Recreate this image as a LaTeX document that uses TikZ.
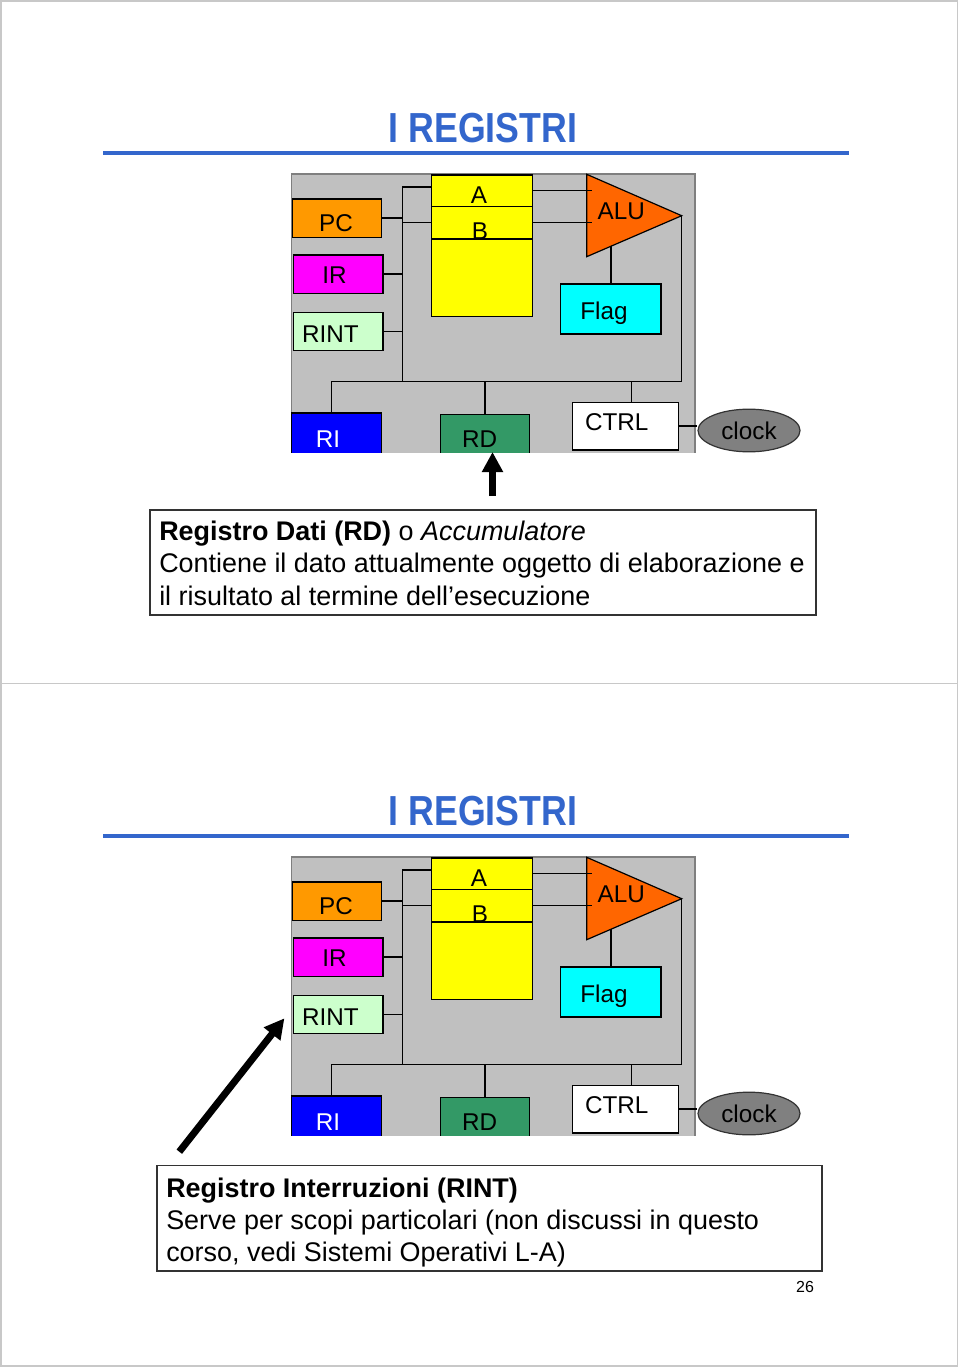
\documentclass[tikz,border=0pt]{standalone}
\usepackage{fontspec}
\setmainfont{Liberation Sans}
\usetikzlibrary{arrows.meta,calc,shapes.geometric}
\definecolor{ttl}{HTML}{3366CC}
\definecolor{framegray}{HTML}{C8C8C8}
\definecolor{cpugray}{HTML}{C0C0C0}
\definecolor{cpuedge}{HTML}{7F7F7F}
\definecolor{cPC}{HTML}{FF9900}
\definecolor{cIR}{HTML}{FF00FF}
\definecolor{cRINT}{HTML}{CCFFCC}
\definecolor{cY}{HTML}{FFFF00}
\definecolor{cALU}{HTML}{FF6600}
\definecolor{cFlag}{HTML}{00FFFF}
\definecolor{cRI}{HTML}{0000FF}
\definecolor{cRD}{HTML}{339966}
\definecolor{cClock}{HTML}{808080}
\tikzset{
  rb/.style={draw=black, line width=0.9pt, inner sep=0pt},
  wire/.style={draw=black, line width=1.1pt},
  lab/.style={inner sep=0pt, font=\fontsize{18.2}{20}\selectfont},
  infotxt/.style={inner sep=0pt, anchor=base west, font=\fontsize{20.2}{24}\selectfont},
  bigarrow/.style={line width=5.25pt, -{Triangle[length=15pt,width=15pt]}},
  infobox/.style={draw=black!80, line width=1pt},
}
\newcommand\regbox[7][]{\node[rb, fill=#7, minimum width={(#5-#3)*0.75pt}, minimum height={(#6-#4)*0.75pt}, #1] (#2) at ({(#3+#5)/2},{(#4+#6)/2}) {};}
\newcommand\cpudiagram{%
  \node[font=\bfseries\fontsize{31.5}{31.5}\selectfont, text=ttl, inner sep=0pt, anchor=base] (title) at (483,142) {\scalebox{0.85}[1]{I REGISTRI}};
  \coordinate (ruleL) at (103,153);
  \coordinate (ruleR) at (849,153);
  \draw[ttl, line width=2.3pt] (ruleL) -- (ruleR);
  \begin{scope}
    \clip (280,165) rectangle (697,452);
    \regbox[draw=cpuedge]{bg}{291.5}{174}{695}{470}{cpugray}
    \coordinate (busTop) at (402.3,187);
    \coordinate (busBot) at (402.3,381.7);
    \coordinate (hbL) at (331.7,381.7);
    \coordinate (hbR) at (681.7,381.7);
    \coordinate (aluA) at (586.7,174.3);
    \coordinate (aluB) at (586.7,256.7);
    \coordinate (aluT) at (681.7,215.7);
    \coordinate (aluIn) at (592,200);
    \coordinate (ctrlTap) at (631.7,381.7);
    \coordinate (aluEdge) at ($(aluB)!0.25!(aluT)$);
    \filldraw[fill=cALU, draw=black, line width=0.9pt] (aluA) -- (aluT) -- (aluB) -- cycle;
    \regbox{PC}{292.3}{199}{381.7}{237.3}{cPC}
    \regbox{IR}{293.3}{255}{383}{293.3}{cIR}
    \regbox{RINT}{293.3}{312.3}{383}{350.7}{cRINT}
    \regbox{A}{431.7}{175}{532.3}{206.3}{cY}
    \regbox{B}{431.7}{206.3}{532.3}{239}{cY}
    \regbox{RF}{431.7}{239}{532.3}{316.7}{cY}
    \regbox{Flag}{560.7}{284}{661}{334}{cFlag}
    \regbox{RI}{291.7}{413}{381.7}{470}{cRI}
    \regbox{RD}{440.3}{414.3}{529.3}{470}{cRD}
    \regbox{CTRL}{572.3}{402.3}{678.7}{450}{white}
    \draw[wire] (busTop) -- (busBot);
    \draw[wire] (busTop) -- (busTop -| A.west);
    \draw[wire] (B.west) -- (B.west -| busTop);
    \draw[wire] (PC.east) -- (PC.east -| busTop);
    \draw[wire] (IR.east) -- (IR.east -| busTop);
    \draw[wire] (RINT.east) -- (RINT.east -| busTop);
    \draw[wire] (A.east) -- (A.east -| aluIn);
    \draw[wire] (B.east) -- (B.east -| aluIn);
    \draw[wire] (aluT) -- (hbR) -- (hbL) -- (hbL |- RI.north);
    \draw[wire] (RD.north) -- (RD.north |- hbL);
    \draw[wire] (ctrlTap) -- (ctrlTap |- CTRL.north);
    \draw[wire] (Flag.north) -- (Flag.north |- aluEdge);
    \node[lab] (Al) at (479,195.5) {A};
    \node[lab] (Bl) at (480,231) {B};
    \node[lab] (PCl) at (336,223) {PC};
    \node[lab] (IRl) at (334.5,275.3) {IR};
    \node[lab] (RINTl) at (330.5,334) {RINT};
    \node[lab, text=white] (RIl) at (328,439) {RI};
    \node[lab] (RDl) at (479.7,439) {RD};
    \node[lab] (CTRLl) at (616.7,422.5) {CTRL};
    \node[lab] (Flagl) at (604,313) {Flag};
    \node[lab] (ALUl) at (621.3,211) {ALU};
  \end{scope}
  \node[lab, ellipse, draw=black!80, line width=0.9pt, fill=cClock, minimum width=76.5pt, minimum height=32pt] (clock) at (749,430.5) {clock};
  \draw[wire] (CTRL.east) -- (CTRL.east -| clock.west);
  \coordinate (diagBot) at (0,452);
}
\begin{document}
\begin{tikzpicture}[x=0.75pt,y=-0.75pt]
  \useasboundingbox (0,0) rectangle (960,1367);
  \fill[white] (0,0) rectangle (960,1367);
  \coordinate (pgTL) at (1,1);
  \coordinate (pgBR) at (957.5,1366);
  \draw[framegray, line width=1.2pt] (pgTL) rectangle (pgBR);
  \coordinate (divL) at (1,683.3);
  \draw[framegray, line width=1.2pt] (divL) -- (divL -| pgBR);
  % slide 1
  \begin{scope}[name prefix=s1-]
    \cpudiagram
    \coordinate (arrTail) at (492.5,496);
    \draw[bigarrow] (arrTail) -- (arrTail |- diagBot);
    \regbox[infobox]{info}{150}{510}{816}{615}{white}
    \node[infotxt] (l1) at (159,540) {\textbf{Registro Dati (RD)} o \textit{Accumulatore}};
    \node[infotxt] (l2) at (159,572.5) {Contiene il dato attualmente oggetto di elaborazione e};
    \node[infotxt] (l3) at (159,605) {il risultato al termine dell’esecuzione};
  \end{scope}
  % slide 2
  \begin{scope}[shift={(0,683)}, name prefix=s2-]
    \cpudiagram
    \coordinate (arrTail) at (179.3,468.7);
    \draw[bigarrow] (arrTail) -- ([shift={(-8.3,3.8)}]RINT.west);
    \regbox[infobox]{info}{157}{482.5}{822}{588}{white}
    \node[infotxt] (l1) at (166,514) {\textbf{Registro Interruzioni (RINT)}};
    \node[infotxt] (l2) at (166,546) {Serve per scopi particolari (non discussi in questo};
    \node[infotxt] (l3) at (166,578) {corso, vedi Sistemi Operativi L-A)};
    \node[inner sep=0pt, anchor=base, font=\fontsize{12}{14}\selectfont] (pagenum) at (805,609) {26};
  \end{scope}
\end{tikzpicture}
\end{document}
